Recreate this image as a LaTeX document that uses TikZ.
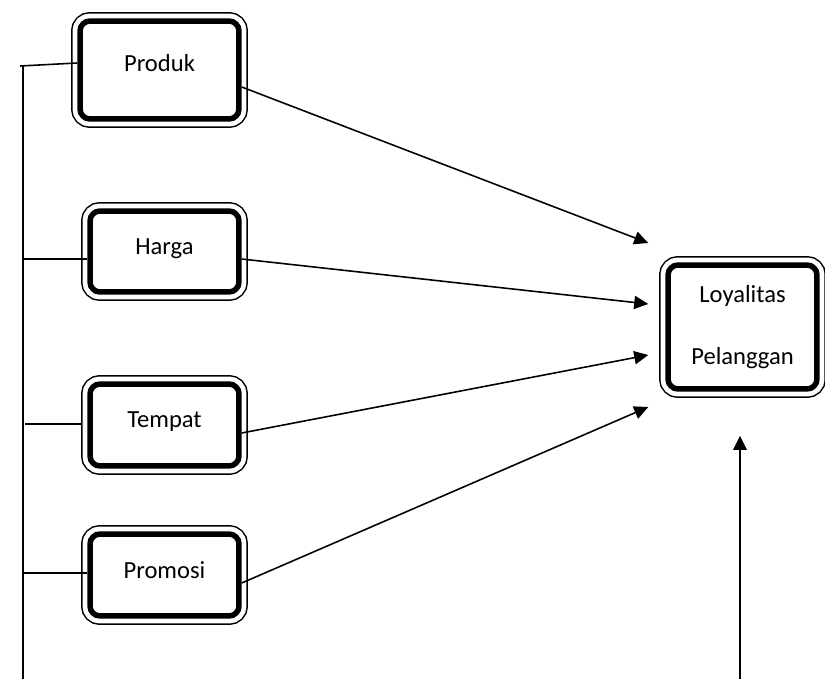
\documentclass[tikz,border=0pt]{standalone}
\usepackage{fontspec}
\setmainfont{Carlito}
\usetikzlibrary{arrows.meta}

\begin{document}
\begin{tikzpicture}[x=0.02cm,y=-0.02cm,
  varbox/.style={draw=black,fill=white,rounded corners=0.2cm,line width=0.11cm,
    preaction={draw,line width=0.36cm},preaction={draw=white,line width=0.30cm},
    align=center,font=\fontsize{14}{17}\selectfont,minimum width=2.98cm},
  link/.style={line width=0.9pt},
  arr/.style={->,>={Triangle[length=8pt,width=7.5pt]},line width=0.9pt}]
\useasboundingbox (0,0) rectangle (825,679);
% Variables
\node[varbox,minimum width=3.18cm,minimum height=1.96cm] (Produk) at (159.5,70) {\raisebox{0.3cm}{Produk}};
\node[varbox,minimum height=1.62cm] (Harga) at (164.5,251.5) {\raisebox{0.19cm}{Harga}};
\node[varbox,minimum height=1.64cm] (Tempat) at (164.5,425) {\raisebox{0.2cm}{Tempat}};
\node[varbox,minimum height=1.64cm] (Promosi) at (164.5,575) {\raisebox{0.2cm}{Promosi}};
\node[varbox,minimum height=2.48cm,font=\fontsize{14}{35}\selectfont] (Loyal) at (742.5,327) {Loyalitas\\Pelanggan};

% Left line
\coordinate (top) at (23,66);
\coordinate (bot) at (23,679);
\draw[link] (top) -- (bot);
\draw[link] ([shift={(-3,0)}]top) -- ([shift={(0,-7)}]Produk.west);
\draw[link] ([shift={(0,7.5)}]Harga.west) -| (top);
\draw[link] ([shift={(-6,-1)}]Tempat.west) -- ([shift={(-62,-1)}]Tempat.west);
\draw[link] ([shift={(0,-2)}]Promosi.west) -| (top);

% Arrows
\draw[arr] ([shift={(0,17)}]Produk.east) -- ([shift={(-17,-84)}]Loyal.west);
\draw[arr] ([shift={(0,7.5)}]Harga.east) -- ([shift={(-17,-23)}]Loyal.west);
\draw[arr] ([shift={(0,8)}]Tempat.east) -- ([shift={(-17,28)}]Loyal.west);
\draw[arr] ([shift={(0,8)}]Promosi.east) -- ([shift={(-17,80)}]Loyal.west);
\coordinate (base) at (740,679);
\draw[arr,line width=1.4pt] (base) -- ([shift={(-2.5,44)}]Loyal.south);
\end{tikzpicture}
\end{document}
